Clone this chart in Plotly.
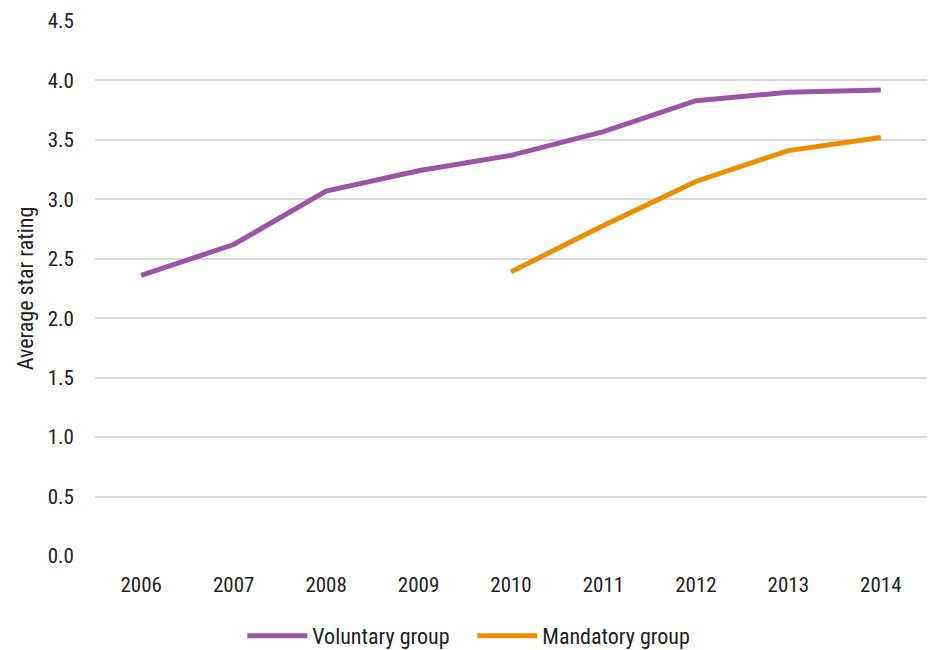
import plotly.graph_objects as go

years = ["2006", "2007", "2008", "2009", "2010", "2011", "2012", "2013", "2014"]
voluntary = [2.36, 2.62, 3.07, 3.24, 3.37, 3.57, 3.83, 3.90, 3.92]
mandatory_years = ["2010", "2011", "2012", "2013", "2014"]
mandatory = [2.39, 2.78, 3.15, 3.41, 3.52]
y_ticks = [0.0, 0.5, 1.0, 1.5, 2.0, 2.5, 3.0, 3.5, 4.0, 4.5]

FONT = "Liberation Sans Narrow, Arial Narrow, Roboto Condensed, sans-serif"

fig = go.Figure()
fig.add_trace(go.Scatter(x=years, y=voluntary, mode="lines", name="Voluntary group",
                         line=dict(color="#9B55A8", width=5)))
fig.add_trace(go.Scatter(x=mandatory_years, y=mandatory, mode="lines", name="Mandatory group",
                         line=dict(color="#F08C00", width=5)))

fig.update_layout(
    width=931, height=650,
    margin=dict(l=95, r=4, t=21, b=94, autoexpand=False),
    paper_bgcolor="white", plot_bgcolor="white",
    font=dict(family=FONT, size=20, color="#222222"),
    legend=dict(orientation="h", x=0.177, xanchor="left", y=-0.11, yanchor="top",
                font=dict(size=22), itemwidth=60, traceorder="normal",
                entrywidth=155, entrywidthmode="pixels"),
    xaxis=dict(type="category", categoryorder="array", categoryarray=years,
               range=[-0.5, 8.5], showgrid=False, showline=False, zeroline=False,
               ticks="", ticklen=0, ticklabelstandoff=14, tickfont=dict(size=21)),
    yaxis=dict(range=[0, 4.5], tickvals=y_ticks, tickformat=".1f",
               showgrid=True, gridcolor="#D9D9D9", gridwidth=2,
               zeroline=False, showline=False, ticks="", ticklabelstandoff=20,
               tickfont=dict(size=21),
               title=dict(text="Average star rating", font=dict(size=22), standoff=8)),
)

fig.write_html("out.html")
